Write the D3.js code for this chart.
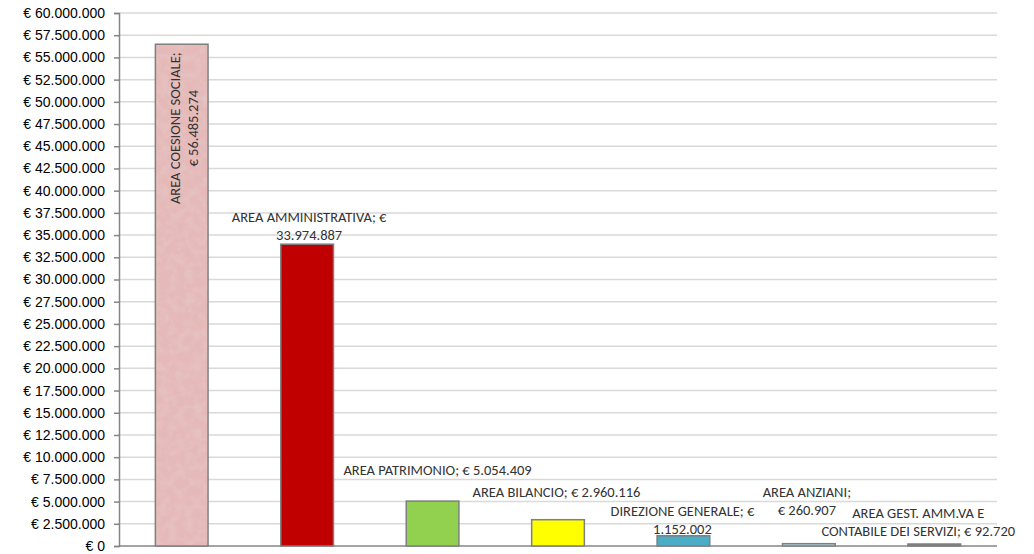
<!DOCTYPE html>
<html>
<head>
<meta charset="utf-8">
<script src="https://cdn.jsdelivr.net/npm/d3@7"></script>
<style>
  body { margin: 0; background: #fff; }
  svg { font-family: Carlito, "Liberation Sans Narrow", "Liberation Sans", sans-serif; }
  .tick text { font-size: 14px; fill: #000; }
  .lbl { font-size: 14.5px; fill: #333; }
</style>
</head>
<body>
<svg width="1034" height="554"></svg>
<script>
// data
var categories = ["AREA COESIONE SOCIALE", "AREA AMMINISTRATIVA", "AREA PATRIMONIO", "AREA BILANCIO",
                  "DIREZIONE GENERALE", "AREA ANZIANI", "AREA GEST. AMM.VA E CONTABILE DEI SERVIZI"];
var values = [56485274, 33974887, 5054409, 2960116, 1152002, 260907, 92720];
var colors = ["#e5b9b8", "#c00000", "#92d050", "#ffff00", "#4bacc6", "#b7dee8", "#7f7f7f"];
var tickValues = d3.range(0, 60000001, 2500000);

// data label text lines
var labelLines = [
  ["AREA COESIONE SOCIALE;", "€ 56.485.274"],
  ["AREA AMMINISTRATIVA;  €", "33.974.887"],
  ["AREA PATRIMONIO;  € 5.054.409"],
  ["AREA BILANCIO; € 2.960.116"],
  ["DIREZIONE GENERALE; €", "1.152.002"],
  ["AREA ANZIANI;", "€ 260.907"],
  ["AREA GEST. AMM.VA E", "CONTABILE DEI SERVIZI; € 92.720"]
];

var svg = d3.select("svg"),
    margin = {top: 13, right: 37, bottom: 8, left: 119},
    width = 1034 - margin.left - margin.right,
    height = 554 - margin.top - margin.bottom;

var fmt = function(v) {
  return "€ " + d3.format(",")(v).replace(/,/g, ".");
};

var x = d3.scaleBand().domain(categories).range([0, width]).paddingInner(0.58).paddingOuter(0.29);
var y = d3.scaleLinear().domain([0, 60000000]).range([height, 0]);

// mottled texture for the first bar
var defs = svg.append("defs");
var f = defs.append("filter").attr("id", "grain").attr("x", 0).attr("y", 0).attr("width", 1).attr("height", 1);
f.append("feTurbulence").attr("type", "fractalNoise").attr("baseFrequency", 0.12).attr("numOctaves", 3).attr("seed", 5).attr("result", "n");
f.append("feColorMatrix").attr("in", "n").attr("type", "matrix")
  .attr("values", "0 0 0 0 0.78  0 0 0 0 0.6  0 0 0 0 0.6  0 0 0 1.1 -0.42").attr("result", "c");
f.append("feComposite").attr("in", "c").attr("in2", "SourceGraphic").attr("operator", "atop");

var g = svg.append("g").attr("transform", "translate(" + margin.left + "," + margin.top + ")");

// gridlines
g.append("g")
  .selectAll("line")
  .data(tickValues.filter(function(d) { return d > 0; }))
  .enter().append("line")
    .attr("x1", 0).attr("x2", width)
    .attr("y1", function(d) { return y(d); }).attr("y2", function(d) { return y(d); })
    .attr("stroke", "#d9d9d9").attr("stroke-width", 1.5);

// y axis
var yAxis = g.append("g")
  .call(d3.axisLeft(y).tickValues(tickValues).tickSize(5).tickPadding(9).tickFormat(fmt));
yAxis.select(".domain").attr("stroke", "#868686").attr("stroke-width", 1.5);
yAxis.selectAll(".tick line").attr("stroke", "#868686").attr("stroke-width", 1.5);

// baseline
g.append("line")
  .attr("x1", 0).attr("x2", width).attr("y1", y(0)).attr("y2", y(0))
  .attr("stroke", "#868686").attr("stroke-width", 1.5);

// bars
var bars = g.append("g").selectAll("rect")
  .data(values)
  .enter().append("rect")
    .attr("x", function(d, i) { return x(categories[i]); })
    .attr("y", function(d) { return Math.min(y(d), y(0) - 2); })
    .attr("width", x.bandwidth())
    .attr("height", function(d) { return Math.max(y(0) - y(d), 2); })
    .attr("fill", function(d, i) { return colors[i]; })
    .attr("filter", function(d, i) { return i === 0 ? "url(#grain)" : null; });

// outlines drawn on top so the filter doesn't eat them
g.append("g").selectAll("rect")
  .data(values)
  .enter().append("rect")
    .attr("x", function(d, i) { return x(categories[i]); })
    .attr("y", function(d) { return Math.min(y(d), y(0) - 2); })
    .attr("width", x.bandwidth())
    .attr("height", function(d) { return Math.max(y(0) - y(d), 2); })
    .attr("fill", "none")
    .attr("stroke", "#7f7f7f")
    .attr("stroke-width", 1.5);

// label offsets relative to bar centre / top (dx, dy of first line baseline)
var labelOffsets = [null, [2, -22], [5, -26], [-1.5, -23], [-1, -20], [-2, -47], [-16, -27]];

// first label: rotated, inside bar
var cx0 = x(categories[0]) + x.bandwidth() / 2;
var l0 = g.append("text").attr("class", "lbl")
  .attr("transform", "translate(" + cx0 + "," + (y(values[0]) + 84) + ") rotate(-90)")
  .attr("text-anchor", "middle");
l0.selectAll("tspan").data(labelLines[0]).enter().append("tspan")
  .attr("x", 0).attr("dy", function(d, i) { return i === 0 ? -1.5 : 18; })
  .text(function(d) { return d; });

labelLines.forEach(function(lines, i) {
  if (i === 0) return;
  var cx = x(categories[i]) + x.bandwidth() / 2 + labelOffsets[i][0];
  var t = g.append("text").attr("class", "lbl").attr("text-anchor", "middle")
    .attr("transform", "translate(" + cx + "," + (y(values[i]) + labelOffsets[i][1]) + ")");
  t.selectAll("tspan").data(lines).enter().append("tspan")
    .attr("x", 0).attr("dy", function(d, j) { return j === 0 ? 0 : 18; })
    .text(function(d) { return d; });
});
</script>
</body>
</html>
